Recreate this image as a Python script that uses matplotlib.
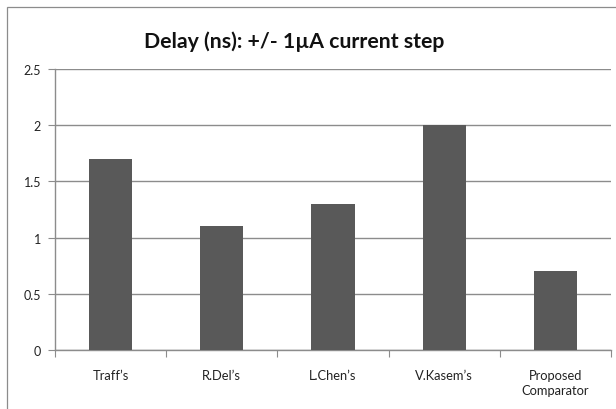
import matplotlib
matplotlib.use("Agg")
import matplotlib.pyplot as plt
from matplotlib.patches import Rectangle

categories = ["Traff\u2019s", "R.Del\u2019s", "L.Chen\u2019s", "V.Kasem\u2019s", "Proposed\nComparator"]
delays = [1.7, 1.1, 1.3, 2.0, 0.7]
yticks = [0, 0.5, 1, 1.5, 2, 2.5]
ytick_labels = ["0", "0.5", "1", "1.5", "2", "2.5"]
title = "Delay (ns): +/- 1\u00b5A current step"

plt.rcParams['font.family'] = ['Lato', 'DejaVu Sans']

W, H = 616, 410
fig = plt.figure(figsize=(W/100, H/100), dpi=100)
fig.patch.set_facecolor("white")

# outer chart border
fig.patches.append(Rectangle((7/W, -0.05), 1.2, 1 - 8/H + 0.05, transform=fig.transFigure,
                             fill=False, edgecolor="#8c8c8c", linewidth=0.9))

ax = fig.add_axes([55/W, 1 - 351/H, (611-55)/W, (351-70)/H])
x = range(len(categories))
ax.bar(x, delays, width=0.39, color="#595959", zorder=3)
ax.set_xlim(-0.5, len(categories) - 0.5)
ax.set_ylim(0, 2.5)
ax.set_yticks(yticks)
ax.set_yticklabels(ytick_labels)
ax.yaxis.grid(True, color="#8c8c8c", linewidth=1.0, zorder=0)
for s in ["top", "right"]:
    ax.spines[s].set_visible(False)
for s in ["left", "bottom"]:
    ax.spines[s].set_color("#8c8c8c")
    ax.spines[s].set_linewidth(1.0)

ax.set_xticks([i - 0.5 for i in range(len(categories) + 1)], minor=False)
ax.set_xticklabels([])
ax.set_xticks(list(x), minor=True)
ax.set_xticklabels(categories, minor=True, fontsize=9.3, color="#222222", linespacing=1.3)
ax.tick_params(axis="x", which="major", length=5, color="#8c8c8c", direction="out")
ax.tick_params(axis="x", which="minor", length=0, pad=14)
ax.tick_params(axis="y", length=5, color="#8c8c8c", labelsize=9, labelcolor="#222222", pad=5)

fig.text(294/W, 1 - 42/H, title, ha="center", va="center", fontsize=15.3,
         fontweight="bold", color="#111111")

fig.savefig("out.png", dpi=100)
